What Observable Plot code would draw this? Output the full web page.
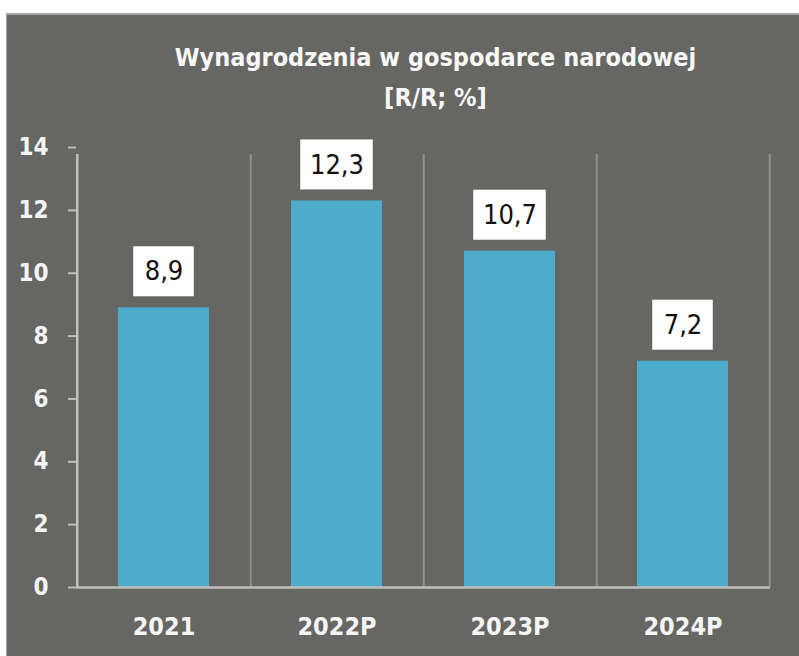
<!DOCTYPE html>
<html>
<head>
<meta charset="utf-8">
<script src="https://cdn.jsdelivr.net/npm/d3@7"></script>
<script src="https://cdn.jsdelivr.net/npm/@observablehq/plot@0.6"></script>
<style>
  html, body { margin: 0; padding: 0; overflow: hidden; background: #ffffff; }
  #page { position: relative; width: 799px; height: 656px; background: #ffffff; }
  #panel { position: absolute; left: 6px; top: 13px; right: 0; bottom: 0; background: #666662;
           border-top: 2px solid #a5a5a2; border-left: 1px solid #a5a5a2; }
  #title { position: absolute; left: 72px; width: 727px; top: 38px; text-align: center; color: #f8f8f8;
           font-family: "Liberation Sans Narrow", "DejaVu Sans Condensed", sans-serif; font-stretch: condensed;
           font-weight: bold; font-size: 25px; line-height: 40px; }
  #chart { position: absolute; left: 0; top: 120px; }
</style>
</head>
<body>
<div id="page">
  <div id="panel"></div>
  <div id="title">Wynagrodzenia w gospodarce narodowej<br>[R/R; %]</div>
  <div id="chart"></div>
</div>
<script>
const categories = ["2021", "2022P", "2023P", "2024P"];
const values = [8.9, 12.3, 10.7, 7.2];
const valueLabels = ["8,9", "12,3", "10,7", "7,2"];
const yTicks = [0, 2, 4, 6, 8, 10, 12, 14];

const data = categories.map((c, i) => ({cat: c, value: values[i], label: valueLabels[i]}));

const W = 799, H = 536, mL = 76, mR = 29, mT = 27, mB = 69;
const bw = (W - mL - mR) / categories.length;
const font = '"Liberation Sans Narrow", "DejaVu Sans Condensed", sans-serif';

const chart = Plot.plot({
  width: W, height: H,
  marginLeft: mL, marginRight: mR, marginTop: mT, marginBottom: mB,
  style: {background: "transparent", fontFamily: font, color: "#f5f5f5", overflow: "visible"},
  x: {domain: categories, padding: 0},
  y: {domain: [0, 14]},
  marks: [
    Plot.ruleX(categories, {x: d => d, dx: bw / 2, y1: 0, y2: 14, insetBottom: -7, stroke: "#8f8f8b", strokeWidth: 2}),
    Plot.barY(data, {x: "cat", y: "value", fill: "#4eabcc", insetLeft: 41, insetRight: 41}),
    Plot.ruleX([categories[0]], {x: d => d, dx: -bw / 2, y1: 0, y2: 14, insetBottom: -7, stroke: "#bfbfbc", strokeWidth: 2.5}),
    Plot.ruleY([0], {stroke: "#bfbfbc", strokeWidth: 2.5}),
    Plot.axisY({ticks: yTicks, tickSize: 8, tickPadding: 20, stroke: "#bfbfbc", strokeWidth: 2, fill: "#f5f5f5",
      fontSize: 24, fontWeight: "bold", label: null, tickFormat: d => String(d)}),
    Plot.axisX({tickSize: 0, tickPadding: 30, fill: "#f5f5f5", fontSize: 25, fontWeight: "bold", label: null}),
    ...data.map(d => Plot.barY([d], {x: "cat", y1: "value", y2: "value", insetTop: -61, insetBottom: 11,
      insetLeft: (bw - (12 * d.label.length + 25)) / 2, insetRight: (bw - (12 * d.label.length + 25)) / 2, fill: "#ffffff"})),
    Plot.text(data, {x: "cat", y: "value", text: "label", dy: -36, fill: "#111111", fontSize: 27})
  ]
});
document.getElementById("chart").appendChild(chart);
</script>
</body>
</html>
